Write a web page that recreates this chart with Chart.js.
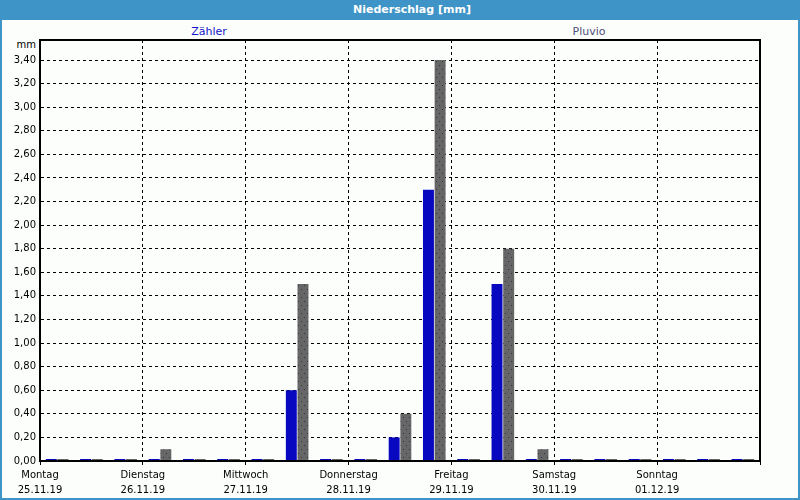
<!DOCTYPE html>
<html>
<head>
<meta charset="utf-8">
<script src="https://cdn.jsdelivr.net/npm/chart.js@4"></script>
<style>
  body { margin: 0; }
  .win { position: relative; width: 796px; height: 478px; background: #fcfefc;
         border: 2px solid #3e94c6; border-top: 20px solid #3e94c6; font-family: Tahoma, "DejaVu Sans", sans-serif; }
  .title { position: absolute; top: -20px; left: 0; width: 820px; height: 20px; line-height: 20px;
           text-align: center; color: #fff; font-weight: bold; font-size: 11px; }
  .legend { position: absolute; top: 5px; font-size: 11px; transform: translateX(-50%); }
  .unit { position: absolute; top: 19px; right: 762px; font-size: 10px; color: #000; }
  canvas { position: absolute; left: -2px; top: -20px; }
</style>
</head>
<body>
<div class="win">
  <div class="title">Niederschlag [mm]</div>
  <div class="legend" style="left:207px;color:#1414c8">Zähler</div>
  <div class="legend" style="left:587px;color:#505078">Pluvio</div>
  <div class="unit">mm</div>
  <canvas id="myChart" width="800" height="500"></canvas>
</div>
<script>
// 8-hour slots, 3 per day
const slots = Array.from({length: 21}, (_, i) => String(i));
const zaehler = [0, 0, 0, 0, 0, 0, 0, 0.6, 0, 0, 0.2, 2.3, 0, 1.5, 0, 0, 0, 0, 0, 0, 0];
const pluvio  = [0, 0, 0, 0.1, 0, 0, 0, 1.5, 0, 0, 0.4, 3.4, 0, 1.8, 0.1, 0, 0, 0, 0, 0, 0];
const days  = ["Montag", "Dienstag", "Mittwoch", "Donnerstag", "Freitag", "Samstag", "Sonntag"];
const dates = ["25.11.19", "26.11.19", "27.11.19", "28.11.19", "29.11.19", "30.11.19", "01.12.19"];
const yTicks = [0, 0.2, 0.4, 0.6, 0.8, 1.0, 1.2, 1.4, 1.6, 1.8, 2.0, 2.2, 2.4, 2.6, 2.8, 3.0, 3.2, 3.4];

function dotted() {
  const c = document.createElement("canvas");
  c.width = 6; c.height = 8;
  const g = c.getContext("2d");
  g.fillStyle = "#666666";
  g.fillRect(0, 0, 6, 8);
  g.fillStyle = "#33334a";
  g.fillRect(1, 1, 1, 1);
  g.fillRect(4, 5, 1, 1);
  return g.createPattern(c, "repeat");
}

const frame = {
  id: "frame",
  afterDraw(chart) {
    const {ctx, chartArea: a} = chart;
    ctx.save();
    ctx.strokeStyle = "#000";
    ctx.lineWidth = 2;
    ctx.strokeRect(a.left, a.top, a.right - a.left, a.bottom - a.top);
    ctx.restore();
  }
};

const font = {family: "Tahoma, 'DejaVu Sans', sans-serif", size: 10, lineHeight: 1.5};

new Chart(document.getElementById("myChart").getContext("2d"), {
  type: "bar",
  data: {
    labels: slots,
    datasets: [
      { label: "Zähler", data: zaehler, backgroundColor: "#0808c0", minBarLength: 2 },
      { label: "Pluvio", data: pluvio, backgroundColor: dotted(), minBarLength: 2 }
    ]
  },
  options: {
    responsive: false,
    animation: false,
    categoryPercentage: 0.68,
    barPercentage: 0.94,
    layout: { padding: { top: 40, right: 40, left: 0, bottom: 0 } },
    plugins: { legend: { display: false }, tooltip: { enabled: false } },
    scales: {
      x: { display: false },
      days: {
        type: "linear", position: "bottom", min: 0, max: 7, offset: false,
        afterBuildTicks: s => { s.ticks = [0, 1, 2, 3, 4, 5, 6, 7].map(v => ({value: v})); },
        afterFit: s => { s.height = 39; },
        grid: { color: "#000", lineWidth: 1, tickLength: 4, offset: false, drawOnChartArea: true },
        border: { color: "#000", width: 2, dash: [3, 3] },
        ticks: {
          color: "#000", font: font, padding: 3, maxRotation: 0, autoSkip: false,
          callback: v => v < 7 ? [days[v], dates[v]] : ""
        }
      },
      y: {
        min: 0, max: 3.57,
        afterBuildTicks: s => { s.ticks = yTicks.map(v => ({value: v})); },
        afterFit: s => { s.width = 40; },
        grid: { color: "#000", lineWidth: 1, drawTicks: false },
        border: { color: "#000", width: 2, dash: [3, 3] },
        ticks: {
          color: "#000", font: {family: font.family, size: 10}, padding: 4,
          callback: v => v.toFixed(2).replace(".", ",")
        }
      }
    }
  },
  plugins: [frame]
});
</script>
</body>
</html>
